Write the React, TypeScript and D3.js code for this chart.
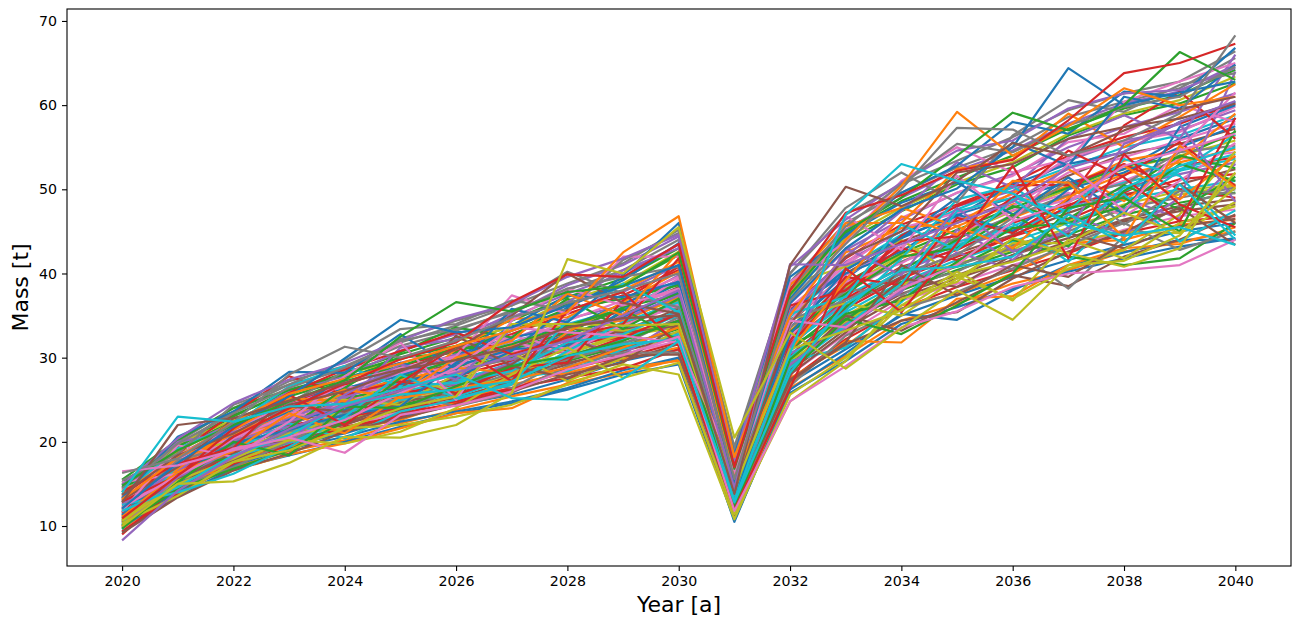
import * as d3 from 'd3';
import React, { useEffect, useRef } from 'react';

const years = d3.range(2020, 2041);
const xTicks = [2020, 2022, 2024, 2026, 2028, 2030, 2032, 2034, 2036, 2038, 2040];
const yTicks = [10, 20, 30, 40, 50, 60, 70];
const tab10 = ['#1f77b4', '#ff7f0e', '#2ca02c', '#d62728', '#9467bd', '#8c564b', '#e377c2', '#7f7f7f', '#bcbd22', '#17becf'];

// one row per simulation run, 2020..2040
const runs: number[][] = [
  [10.1,14.6,17.6,19.6,21.0,23.0,24.4,25.6,27.4,29.6,31.0,11.3,27.0,31.0,35.0,37.4,39.6,41.6,43.4,45.0,46.0],
  [11.9,16.8,20.0,22.6,24.4,26.4,28.2,30.0,32.2,34.0,36.8,14.4,32.6,38.2,41.8,44.2,46.6,49.2,51.8,53.2,54.8],
  [10.7,15.3,18.6,20.8,22.4,24.4,25.8,27.4,29.6,31.4,33.4,12.7,29.4,34.4,38.0,40.4,42.6,44.6,47.0,48.4,49.6],
  [13.6,18.2,21.8,24.6,26.8,29.0,30.8,32.8,35.2,37.4,40.4,16.6,35.8,41.8,45.8,48.2,50.8,54.0,56.2,57.8,60.2],
  [11.3,16.0,19.2,21.6,23.6,25.6,27.4,29.0,31.0,33.0,35.4,13.6,31.4,36.8,40.2,43.0,45.2,47.8,50.2,51.8,53.2],
  [12.5,17.3,20.8,23.4,25.4,27.6,29.4,31.2,33.4,35.6,38.4,15.4,34.2,40.0,43.8,46.2,48.6,51.6,54.2,55.4,57.2],
  [10.3,14.9,18.0,20.2,21.6,23.6,25.0,26.4,28.4,30.4,32.0,12.0,28.0,32.8,36.8,38.8,41.0,43.0,45.2,46.8,47.6],
  [14.6,19.6,23.6,26.8,28.6,31.4,33.2,35.6,38.0,40.4,44.0,18.8,39.0,46.0,49.6,52.6,55.0,58.6,60.4,62.0,65.6],
  [11.7,16.6,19.8,22.4,24.6,26.6,28.4,30.2,32.4,34.6,37.0,14.8,32.8,38.4,42.2,44.6,47.4,50.0,52.4,54.0,55.8],
  [10.9,15.6,18.9,21.2,23.2,25.0,26.6,28.4,30.2,32.2,34.2,13.2,30.4,35.4,39.0,41.6,43.8,46.0,48.8,50.0,51.0],

  [12.9,17.0,20.4,23.0,24.8,27.0,29.2,30.4,32.8,34.8,37.8,15.0,33.6,39.4,44.2,47.0,49.0,50.8,52.4,56.0,58.4],
  [9.7,14.0,17.0,18.9,20.2,22.2,23.8,25.4,26.8,28.2,29.8,11.1,26.4,30.2,34.4,36.4,38.8,40.4,42.6,43.8,45.0],
  [14.0,19.0,22.6,25.4,27.4,30.0,31.4,33.8,36.4,38.6,42.2,17.6,37.6,43.8,47.4,50.6,52.6,56.4,58.8,60.2,62.6],
  [11.5,16.2,19.0,21.8,23.2,25.2,27.8,29.6,30.8,33.4,35.0,14.2,31.8,37.0,40.8,42.8,46.0,48.2,49.6,52.8,53.8],
  [13.2,18.0,21.4,24.2,26.2,28.6,30.2,32.2,34.6,36.2,39.8,16.2,35.2,41.4,45.0,48.0,49.8,53.4,55.8,57.0,59.4],
  [10.5,15.0,18.2,20.6,22.0,24.2,25.2,27.2,29.2,31.2,32.6,12.5,28.8,34.0,37.6,39.8,42.2,44.2,46.4,48.0,48.8],
  [12.1,16.9,20.2,22.8,24.2,26.2,28.0,30.6,32.0,33.8,36.4,14.6,32.0,37.8,41.4,43.6,47.0,48.8,51.0,53.6,54.4],
  [14.8,20.0,24.0,27.2,29.0,31.8,33.8,36.2,38.8,41.2,45.2,19.4,40.0,47.0,50.6,53.4,56.2,59.4,61.4,62.8,66.4],
  [11.1,15.9,18.4,21.0,22.8,24.8,26.2,28.0,30.4,32.6,33.6,13.0,29.8,35.0,38.6,41.0,43.2,45.4,47.6,49.4,50.4],
  [13.0,17.6,21.0,23.8,25.6,28.0,29.6,31.8,34.0,35.8,39.0,15.8,34.8,40.6,44.6,47.6,50.2,52.6,55.0,56.4,58.8],

  [9.3,13.6,16.8,18.4,20.0,21.8,23.4,24.6,26.2,28.0,29.2,10.7,25.8,29.6,34.0,36.0,38.2,40.2,41.8,43.2,44.2],
  [12.3,17.4,21.0,22.4,25.0,26.8,28.8,31.4,33.8,34.4,37.2,15.2,33.2,38.8,42.8,45.6,48.2,50.4,53.4,54.6,56.4],
  [15.2,19.4,23.2,25.8,28.2,30.4,32.4,34.4,37.2,39.4,43.0,18.2,38.2,44.8,48.6,51.4,54.0,57.2,59.6,61.2,64.2],
  [10.0,14.4,17.4,20.0,21.2,23.4,24.6,26.2,28.8,30.0,31.8,11.8,27.4,32.2,35.8,38.4,40.4,42.4,44.8,46.2,46.8],
  [13.8,18.4,22.0,24.8,27.0,29.4,31.0,33.2,35.6,37.8,41.0,17.0,36.4,42.8,46.4,49.6,51.8,55.0,57.4,59.2,61.4],
  [11.6,16.4,18.8,22.2,24.0,25.4,27.6,28.8,31.8,33.2,35.8,13.8,30.8,36.2,39.6,42.4,44.6,47.2,49.4,50.6,52.4],
  [12.7,17.8,20.6,23.2,24.4,27.8,29.0,30.8,33.0,36.0,38.0,15.6,34.4,39.8,43.2,46.6,48.0,52.0,53.8,55.8,57.8],
  [10.6,15.2,19.0,21.0,22.8,24.0,26.0,28.2,29.8,31.8,33.0,12.9,29.0,34.8,38.4,40.2,43.4,45.0,47.8,49.0,50.2],
  [14.3,18.8,22.4,25.6,28.0,29.8,32.0,33.6,36.8,38.8,42.6,17.4,37.4,44.2,47.8,50.8,53.2,56.6,59.0,60.6,63.4],
  [11.4,16.1,19.6,21.6,23.8,26.0,27.2,29.4,31.2,33.6,34.8,14.0,31.2,37.4,40.6,43.4,45.6,48.6,50.8,52.4,54.2],

  [13.3,17.2,21.6,24.0,26.4,27.8,30.4,32.4,33.6,36.4,39.2,16.4,35.4,40.4,44.4,46.8,50.6,53.0,54.4,58.0,60.4],
  [9.9,14.3,17.8,19.4,21.4,22.6,24.8,26.8,28.2,29.8,31.2,12.2,27.6,31.4,36.2,37.6,40.0,43.6,44.0,45.8,46.4],
  [12.8,16.3,20.4,23.6,25.2,26.4,29.0,30.0,32.6,35.2,37.6,15.1,33.0,39.0,42.4,45.2,47.8,50.2,52.8,53.8,56.8],
  [11.2,15.5,19.4,21.4,23.0,25.8,26.8,28.6,31.6,32.4,34.4,13.4,30.2,35.8,39.4,42.0,44.4,46.4,49.2,51.2,51.8],
  [14.4,19.2,22.2,26.0,27.8,30.8,32.8,34.8,37.6,40.0,43.4,18.0,38.6,45.2,49.0,52.2,54.6,57.8,60.2,61.6,64.8],
  [10.4,14.7,18.4,20.4,22.2,23.8,25.6,27.8,29.4,30.8,32.4,12.4,28.4,33.4,37.2,39.4,41.6,43.8,46.2,47.4,48.2],
  [13.1,17.4,21.2,23.6,25.8,28.2,30.0,31.6,34.4,36.8,39.6,16.0,35.0,41.0,45.4,47.2,49.4,53.8,55.6,56.8,59.8],
  [12.0,16.7,19.4,22.8,24.0,26.6,28.6,29.8,31.4,34.2,36.0,14.3,32.2,38.0,41.4,44.2,46.8,49.4,50.6,54.4,55.2],
  [10.8,15.7,18.6,21.4,22.6,24.6,26.4,27.6,30.6,32.8,33.8,13.1,29.6,34.2,38.8,41.2,42.8,46.2,48.2,49.8,50.6],
  [11.0,15.1,18.1,20.9,23.4,25.2,27.0,29.2,30.2,32.0,35.2,13.9,31.6,36.4,40.0,43.8,45.0,47.6,49.8,52.2,53.6],

  [9.8,14.2,17.2,19.2,20.6,22.4,23.6,24.8,26.4,28.5,30.0,10.5,26.2,30.5,35.2,34.5,38.0,41.0,42.5,44.0,44.0],
  [11.2,15.8,16.6,18.5,19.8,21.6,23.4,24.0,27.0,28.8,29.6,11.2,27.0,32.0,31.8,37.0,37.3,41.0,43.0,43.5,45.5],
  [15.5,20.2,24.0,26.2,27.2,29.0,31.2,31.0,33.0,36.0,37.5,14.8,31.5,34.5,39.0,40.8,44.0,42.0,41.0,41.8,46.0],
  [9.0,14.8,18.8,22.0,23.0,24.0,24.8,26.4,27.6,28.7,31.0,11.5,27.8,37.0,44.5,48.0,50.5,50.5,53.0,50.0,49.0],
  [13.5,16.5,19.2,22.8,25.4,27.0,26.8,29.4,32.2,30.4,34.5,12.2,30.5,33.5,38.0,42.5,40.5,45.5,49.0,46.5,53.0],
  [10.4,15.2,17.8,20.4,21.4,23.2,26.6,29.2,33.5,33.0,33.8,12.8,28.5,35.0,33.2,36.6,39.8,38.5,42.0,44.0,47.0],
  [11.8,17.0,20.6,23.4,22.6,26.4,28.4,31.8,30.6,33.8,36.2,14.2,32.5,39.0,41.2,44.8,47.5,49.6,46.8,51.0,55.5],
  [12.4,14.8,19.8,21.2,24.6,24.9,27.2,26.4,29.8,31.6,34.8,13.5,33.6,38.2,37.4,41.0,43.0,38.2,44.4,48.0,50.0],
  [14.2,18.8,20.0,20.2,24.0,27.8,26.0,34.0,33.6,33.2,34.0,17.6,34.5,36.5,35.0,39.4,43.6,43.6,45.0,44.8,48.5],
  [10.2,16.4,18.4,19.8,22.8,25.0,25.4,27.6,28.4,31.0,32.8,15.0,29.6,31.2,36.6,43.2,46.0,41.4,47.6,52.2,56.5],

  [11.0,15.4,19.4,22.6,23.8,26.8,29.0,31.0,31.4,35.6,38.8,16.2,35.6,40.0,42.6,47.0,45.0,50.0,52.0,55.0,57.5],
  [13.0,17.6,21.0,23.0,25.8,27.4,28.8,28.2,33.0,36.6,40.2,15.4,34.0,42.5,45.4,46.0,49.6,52.4,48.6,53.5,59.0],
  [15.0,19.4,23.0,26.2,28.0,30.0,30.6,33.2,35.8,37.0,38.6,13.2,31.0,36.0,40.4,44.0,48.0,46.5,50.5,47.6,51.5],
  [9.4,13.8,17.4,19.6,21.8,23.0,25.6,27.8,30.0,32.4,35.2,12.4,31.6,38.6,43.0,41.6,44.4,48.0,51.6,55.6,50.4],
  [12.6,16.6,20.2,21.8,25.2,28.4,30.4,29.8,34.0,34.6,37.4,14.0,29.2,34.0,37.8,45.2,41.6,47.0,44.6,49.0,64.0],
  [10.6,15.6,18.6,20.8,22.2,24.6,26.2,28.6,32.6,29.6,31.6,11.0,28.0,33.0,39.4,38.4,42.2,44.8,43.0,45.6,46.5],
  [14.4,18.4,21.6,24.4,26.6,25.8,29.6,32.6,31.0,35.2,39.4,15.8,36.0,41.2,46.6,49.6,51.6,55.6,56.6,60.0,58.0],
  [11.4,14.6,17.0,20.0,23.4,26.0,24.2,25.8,29.0,30.6,30.6,12.0,26.6,32.6,35.8,37.8,40.6,43.4,46.0,42.8,45.0],
  [13.6,19.8,22.6,25.0,25.0,24.4,28.0,30.6,27.2,30.0,33.2,18.6,38.8,40.8,44.0,39.6,37.0,40.6,42.8,47.0,54.5],
  [9.6,17.2,19.0,22.2,20.4,23.6,25.0,27.0,30.8,34.2,36.6,13.7,30.0,35.6,41.8,48.8,50.4,45.6,49.4,43.8,47.5],

  [12.2,15.0,20.8,23.6,27.6,29.4,27.6,30.8,36.0,39.2,43.6,17.4,37.0,44.6,48.4,50.8,47.0,51.4,47.0,57.4,60.0],
  [10.0,16.8,21.4,25.2,24.8,25.6,31.0,34.6,34.8,38.0,41.4,16.6,38.6,46.0,46.0,52.4,53.6,59.0,55.0,58.6,62.5],
  [14.6,17.4,18.0,21.6,26.4,30.6,33.6,32.4,37.0,33.4,37.0,14.4,33.0,37.6,42.0,43.0,47.0,43.2,49.8,54.0,52.5],
  [11.6,18.6,23.4,27.8,25.6,27.2,25.8,28.8,29.4,36.8,40.8,17.8,32.0,39.6,38.6,46.6,44.8,48.8,57.6,61.6,56.0],
  [13.4,20.0,21.2,22.4,24.4,31.2,32.2,35.2,38.6,41.0,44.4,15.0,35.4,42.0,47.4,53.2,50.2,56.0,58.8,56.0,66.0],
  [9.2,13.4,16.6,18.6,21.2,22.8,24.4,26.0,28.0,29.4,34.0,13.0,27.4,31.6,34.4,35.4,39.4,42.6,45.0,47.8,43.4],
  [15.2,16.2,20.4,23.2,27.0,28.8,30.2,37.4,35.2,42.0,42.0,16.4,39.0,43.8,51.0,55.0,52.0,53.6,60.4,62.8,65.0],
  [12.0,17.8,19.6,24.6,28.4,32.2,34.4,36.2,40.2,37.6,36.0,14.6,34.6,36.8,40.0,42.2,46.6,51.0,45.8,49.8,49.5],
  [10.8,15.4,18.0,21.0,21.6,22.0,23.0,24.4,26.8,29.2,28.0,10.8,25.6,30.0,36.2,40.2,36.8,44.0,41.8,46.0,48.0],
  [13.8,19.2,22.0,26.6,29.0,26.6,27.0,28.4,31.8,32.8,35.6,12.6,28.8,33.8,38.8,47.4,49.0,47.4,53.6,51.6,44.5],

  [11.3,16.2,19.9,21.4,23.2,24.2,29.4,33.8,37.4,37.2,39.0,13.4,32.8,40.4,44.2,49.0,55.6,52.8,61.0,59.6,64.8],
  [14.0,18.2,20.9,23.8,26.2,25.2,26.4,27.4,28.8,31.2,33.6,15.6,37.8,45.6,47.8,45.6,43.0,49.0,52.8,48.8,54.0],
  [10.1,14.4,16.8,19.0,22.4,27.6,29.8,31.6,33.8,35.8,32.0,11.7,29.8,35.2,36.8,41.4,45.4,46.0,48.0,53.0,51.0],
  [12.9,16.0,21.6,25.8,28.6,30.8,33.0,30.4,32.4,34.0,41.8,17.2,36.2,38.0,43.8,44.4,49.0,54.6,51.4,46.2,58.5],
  [9.9,15.8,19.0,20.0,25.6,29.2,27.4,33.4,36.6,40.4,43.0,14.9,31.2,43.0,39.8,47.8,42.6,45.0,55.4,57.8,48.5],
  [13.1,17.0,22.8,24.2,23.6,26.2,32.6,29.0,27.6,30.2,30.4,12.9,27.2,31.8,41.0,37.4,41.0,39.6,43.6,50.6,46.0],
  [11.7,19.6,18.2,22.4,27.8,31.8,25.0,34.4,38.2,36.2,38.2,16.0,33.8,46.8,42.8,51.6,46.4,53.0,47.4,54.8,61.5],
  [15.4,18.6,24.4,26.8,29.6,33.4,34.0,36.8,35.6,41.6,44.8,19.0,40.0,47.8,52.0,48.4,56.4,60.6,59.2,62.4,63.8],
  [10.3,13.6,17.6,20.2,19.8,21.2,24.0,28.0,31.2,27.6,29.4,11.4,24.8,29.6,37.0,39.0,44.2,42.4,40.8,43.0,53.5],
  [12.5,14.0,16.2,19.4,23.0,28.0,25.2,26.8,34.4,38.8,35.4,13.6,35.2,37.2,45.8,42.8,48.8,44.4,50.2,52.8,55.0],

  [13.3,20.6,23.6,28.3,28.2,32.8,28.6,35.8,34.2,39.8,46.0,18.4,39.6,44.4,49.6,52.8,58.0,56.6,61.6,61.0,66.8],
  [11.1,16.4,18.9,23.4,21.0,25.4,30.0,32.0,37.6,35.0,42.6,15.7,30.8,39.2,46.8,44.6,51.0,50.8,44.2,55.2,50.2],
  [9.7,15.2,20.0,18.4,24.2,24.0,26.6,29.0,30.2,32.0,34.4,12.3,28.2,34.6,32.8,36.2,40.0,47.8,49.0,45.0,57.0],
  [14.1,17.4,19.3,25.6,22.0,27.0,31.4,27.2,35.6,37.8,31.4,11.9,26.4,40.6,35.4,43.6,52.8,41.8,54.2,48.2,45.5],
  [14.9,20.4,24.6,27.4,29.4,32.0,34.6,36.4,39.6,41.8,44.6,17.8,40.8,46.4,50.8,54.6,55.8,59.6,61.4,61.8,64.4],
  [13.7,18.4,21.0,24.4,26.0,28.4,31.0,35.0,40.0,36.5,35.2,14.0,34.0,42.0,45.0,52.0,53.0,56.0,57.4,58.4,60.2],
  [12.2,16.0,19.2,20.6,22.6,25.8,28.8,33.6,33.0,32.6,31.8,16.6,34.4,33.6,38.2,41.0,46.2,48.4,52.8,54.6,56.6],
  [14.5,19.8,23.4,26.4,28.8,32.0,33.4,35.4,38.2,39.6,40.8,15.0,38.0,45.6,50.6,55.4,54.4,57.6,59.8,61.0,64.6],
  [10.6,15.0,17.6,19.0,21.6,24.0,25.4,34.0,34.0,33.8,34.0,14.4,31.0,33.2,35.6,39.8,41.4,43.6,47.2,44.8,50.2],
  [11.8,14.6,18.4,20.8,24.4,25.6,26.2,27.2,30.2,31.6,32.2,12.8,28.2,36.4,40.4,40.8,42.0,47.0,43.6,50.6,44.0],

  [12.1,17.5,21.8,25.4,29.9,34.5,33.0,33.6,36.2,38.5,41.0,15.2,36.5,43.0,47.6,50.1,55.0,64.4,60.0,61.5,62.8],
  [13.2,18.1,22.4,25.7,27.5,29.3,31.4,33.2,35.4,42.5,46.8,18.2,35.0,44.0,50.4,59.2,54.0,57.5,62.0,60.0,61.0],
  [14.8,19.0,22.0,24.8,27.3,32.5,36.6,35.5,37.8,38.5,42.5,16.8,37.5,45.0,49.0,54.0,59.1,57.0,60.0,66.3,63.0],
  [10.9,16.0,20.6,24.0,26.9,29.8,31.8,36.6,39.9,39.6,43.5,17.0,38.0,47.2,49.3,52.2,53.5,58.2,63.8,65.0,67.3],
  [8.3,14.2,18.2,21.5,24.2,26.1,28.2,30.2,32.0,35.0,38.0,14.5,41.1,41.0,43.5,46.0,48.5,52.5,54.5,58.0,60.5],
  [12.8,22.0,22.8,24.9,27.0,28.6,29.7,31.2,33.6,34.7,35.0,13.8,41.0,50.3,48.0,51.0,55.5,54.0,57.0,59.5,61.0],
  [16.5,17.2,19.0,20.5,18.7,23.2,24.3,26.0,28.6,30.3,32.5,11.8,24.8,29.0,33.6,35.5,38.4,40.0,40.4,41.0,44.0],
  [16.3,18.0,22.3,28.0,31.3,30.0,32.0,34.8,36.5,38.0,40.0,15.6,36.8,43.5,50.0,57.3,57.1,54.0,55.8,59.0,68.3],
  [10.0,15.0,15.3,17.5,20.6,20.5,22.0,25.8,41.7,40.0,45.5,20.5,33.0,28.7,33.5,38.0,34.5,41.0,41.5,44.5,52.0],
  [14.0,23.0,22.4,24.2,24.5,26.4,28.0,25.2,25.0,27.5,32.0,13.0,30.5,47.0,53.0,51.0,49.5,46.0,44.5,45.5,43.4],
];

const W = 1296;
const H = 624;
const margin = { left: 67, right: 5, top: 9, bottom: 58 };

function App() {
  const ref = useRef<SVGSVGElement | null>(null);

  useEffect(() => {
    const svg = d3.select(ref.current);
    svg.selectAll('*').remove();

    const x = d3.scaleLinear().domain([2019.01, 2041]).range([margin.left, W - margin.right]);
    const y = d3.scaleLinear().domain([5.25, 71.42]).range([H - margin.bottom, margin.top]);

    const line = d3.line<number>()
      .x((d, i) => x(years[i]))
      .y(d => y(d));

    svg.append('g')
      .selectAll('path')
      .data(runs)
      .enter()
      .append('path')
      .attr('d', d => line(d))
      .attr('fill', 'none')
      .attr('stroke', (d, i) => tab10[i % 10])
      .attr('stroke-width', 2.2)
      .attr('stroke-linejoin', 'round');

    const xAxis = svg.append('g')
      .attr('transform', `translate(0,${H - margin.bottom})`)
      .call(d3.axisBottom(x).tickValues(xTicks).tickFormat(d3.format('d')).tickSize(5).tickPadding(5));
    const yAxis = svg.append('g')
      .attr('transform', `translate(${margin.left},0)`)
      .call(d3.axisLeft(y).tickValues(yTicks).tickSize(5).tickPadding(5));

    [xAxis, yAxis].forEach(a => {
      a.select('.domain').remove();
      a.selectAll('line').attr('stroke', '#000').attr('stroke-width', 1.1);
      a.selectAll('text')
        .attr('fill', '#000')
        .style('font-family', '"DejaVu Sans"')
        .style('font-size', '14.2px');
    });

    svg.append('rect')
      .attr('x', margin.left)
      .attr('y', margin.top)
      .attr('width', W - margin.left - margin.right)
      .attr('height', H - margin.top - margin.bottom)
      .attr('fill', 'none')
      .attr('stroke', '#000')
      .attr('stroke-width', 1.1);

    svg.append('text')
      .attr('x', (margin.left + W - margin.right) / 2)
      .attr('y', 612)
      .attr('text-anchor', 'middle')
      .style('font-family', '"DejaVu Sans"')
      .style('font-size', '22px')
      .text('Year [a]');

    svg.append('text')
      .attr('transform', `translate(28,${(margin.top + H - margin.bottom) / 2}) rotate(-90)`)
      .attr('text-anchor', 'middle')
      .style('font-family', '"DejaVu Sans"')
      .style('font-size', '22px')
      .text('Mass [t]');
  }, []);

  return (
    <svg ref={ref} width={W} height={H} style={{ position: 'absolute', left: 0, top: 0 }}></svg>
  );
}

export default App;
